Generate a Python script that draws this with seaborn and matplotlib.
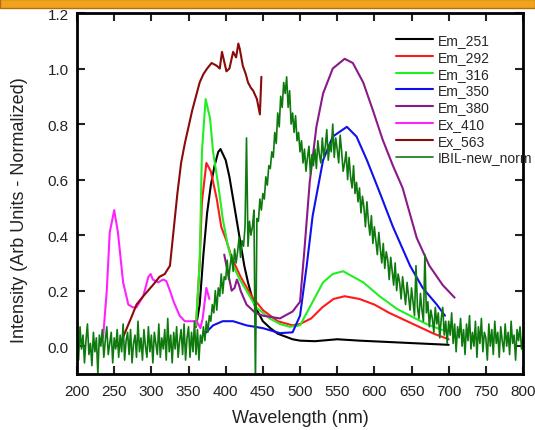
import numpy as np
import seaborn as sns
import matplotlib.pyplot as plt
from matplotlib.patches import Rectangle

### Datos
# Em_251
wl_em251 = [360, 365, 370, 375, 380, 385, 390, 393, 400, 405, 410, 415, 420, 425, 430, 435,
            440, 450, 460, 470, 480, 490, 500, 520, 550, 580, 620, 660, 700]
em251 = [0.07, 0.15, 0.33, 0.48, 0.58, 0.65, 0.70, 0.71, 0.67, 0.61, 0.53, 0.45, 0.37, 0.29, 0.23, 0.18,
         0.14, 0.09, 0.065, 0.045, 0.035, 0.025, 0.02, 0.018, 0.025, 0.02, 0.015, 0.01, 0.005]

# Em_292
wl_em292 = [360, 365, 368, 374, 380, 388, 394, 401, 408, 420, 435, 450, 470, 490, 500, 515,
            530, 545, 560, 580, 600, 620, 640, 660, 680, 700]
em292 = [0.07, 0.3, 0.52, 0.66, 0.63, 0.53, 0.43, 0.38, 0.32, 0.25, 0.18, 0.13, 0.09, 0.075, 0.08, 0.1,
         0.14, 0.17, 0.18, 0.17, 0.15, 0.12, 0.095, 0.07, 0.045, 0.025]

# Em_316
wl_em316 = [360, 365, 368, 373, 379, 383, 390, 396, 403, 410, 419, 428, 441, 459, 473, 486,
            500, 517, 531, 544, 558, 585, 607, 630, 648, 670, 700]
em316 = [0.075, 0.3, 0.7, 0.89, 0.82, 0.7, 0.58, 0.46, 0.36, 0.29, 0.24, 0.2, 0.14, 0.1, 0.08, 0.07,
         0.075, 0.16, 0.23, 0.26, 0.27, 0.23, 0.18, 0.135, 0.11, 0.08, 0.05]

# Em_350
wl_em350 = [370, 383, 396, 410, 428, 450, 473, 490, 500, 509, 517, 531, 544, 563, 576, 590,
            607, 625, 648, 665, 684, 695]
em350 = [0.04, 0.075, 0.09, 0.09, 0.075, 0.065, 0.047, 0.05, 0.11, 0.29, 0.47, 0.67, 0.755, 0.79, 0.755, 0.67,
         0.555, 0.43, 0.29, 0.21, 0.15, 0.11]

# Em_380
wl_em380 = [398, 401, 405, 408, 412, 415, 418, 420, 428, 440, 450, 473, 490, 500, 506, 513,
            522, 531, 544, 560, 571, 585, 598, 611, 625, 638, 657, 674, 692, 708]
em380 = [0.33, 0.29, 0.24, 0.2, 0.21, 0.24, 0.22, 0.2, 0.15, 0.12, 0.11, 0.1, 0.125, 0.16, 0.35, 0.59,
         0.79, 0.91, 1.0, 1.035, 1.02, 0.95, 0.85, 0.745, 0.65, 0.57, 0.39, 0.29, 0.22, 0.175]

# Ex_410
wl_ex410 = [235, 240, 244, 250, 255, 262, 269, 275, 280, 289, 296, 299, 302, 309, 316, 320,
            325, 330, 338, 345, 356, 361, 366, 369, 374, 378]
ex410 = [0.03, 0.2, 0.41, 0.49, 0.41, 0.23, 0.15, 0.14, 0.14, 0.18, 0.25, 0.26, 0.24, 0.23, 0.24, 0.235,
         0.2, 0.16, 0.11, 0.09, 0.09, 0.09, 0.065, 0.1, 0.21, 0.17]

# Ex_563
wl_ex563 = [254, 260, 267, 274, 280, 289, 302, 311, 318, 325, 330, 335, 340, 345, 350, 355,
            360, 365, 370, 375, 381, 388, 392, 395, 401, 405, 410, 414, 417, 419, 423, 427,
            430, 434, 437, 442, 446, 448]
ex563 = [0.0, 0.02, 0.065, 0.11, 0.15, 0.18, 0.22, 0.25, 0.26, 0.29, 0.42, 0.55, 0.66, 0.73, 0.79, 0.85,
         0.9, 0.95, 0.98, 1.0, 1.02, 1.01, 1.0, 1.06, 0.99, 1.0, 1.06, 1.04, 1.09, 1.07, 1.01, 0.98,
         0.95, 0.93, 0.92, 0.89, 0.835, 0.97]

# IBIL-new_norm (cada 2 nm, de 200 a 800)
wl_ibil = np.arange(200, 801, 2)
ibil = [0.03, -0.05, 0.07, -0.01, 0.04, -0.06, 0.02, 0.08, -0.03, 0.01,       # 200
        -0.07, 0.05, -0.02, 0.03, -0.10, 0.04, 0.0, 0.06, -0.04, 0.02,        # 220
        0.07, -0.03, 0.01, 0.05, -0.06, 0.03, -0.01, 0.06, -0.04, 0.04,       # 240
        -0.02, 0.08, -0.05, 0.02, 0.05, -0.03, 0.06, -0.06, 0.01, 0.04,       # 260
        -0.04, 0.09, -0.02, 0.03, -0.05, 0.06, 0.0, -0.04, 0.07, -0.02,       # 280
        0.04, -0.06, 0.05, 0.01, -0.03, 0.08, -0.04, 0.03, -0.01, 0.06,       # 300
        -0.05, 0.1, -0.02, 0.04, -0.06, 0.05, -0.01, 0.07, -0.04, 0.02,       # 320
        0.06, -0.03, 0.08, -0.05, 0.03, 0.07, -0.04, 0.05, -0.02, 0.09,       # 340
        -0.03, 0.06, -0.05, 0.04, 0.01, 0.07, 0.02, 0.09, 0.05, 0.11,         # 360
        0.09, 0.15, 0.12, 0.2, 0.13, 0.21, 0.18, 0.26, 0.19, 0.25,            # 380
        0.24, 0.31, 0.24, 0.29, 0.33, 0.27, 0.35, 0.3, 0.34, 0.39,            # 400
        0.32, 0.38, 0.36, 0.43, 0.75, 0.36, 0.45, 0.4, 0.43, 0.49,            # 420
        -0.13, 0.46, 0.45, 0.53, 0.49, 0.55, 0.53, 0.61, 0.58, 0.65,          # 440
        0.64, 0.7, 0.68, 0.77, 0.73, 0.84, 0.79, 0.9, 0.86, 0.95,             # 460
        0.91, 0.97, 0.86, 0.92, 0.8, 0.84, 0.77, 0.83, 0.74, 0.77,            # 480
        0.7, 0.74, 0.66, 0.71, 0.63, 0.68, 0.72, 0.62, 0.69, 0.65,            # 500
        0.71, 0.64, 0.74, 0.69, 0.66, 0.75, 0.68, 0.72, 0.78, 0.67,           # 520
        0.73, 0.7, 0.8, 0.68, 0.75, 0.71, 0.66, 0.76, 0.7, 0.63,              # 540
        0.66, 0.7, 0.6, 0.68, 0.61, 0.57, 0.65, 0.55, 0.59, 0.52,             # 560
        0.57, 0.48, 0.54, 0.5, 0.43, 0.52, 0.45, 0.4, 0.47, 0.37,             # 580
        0.43, 0.38, 0.33, 0.41, 0.35, 0.3, 0.37, 0.28, 0.34, 0.31,            # 600
        0.24, 0.32, 0.27, 0.22, 0.3, 0.2, 0.26, 0.23, 0.17, 0.25,             # 620
        0.2, 0.15, 0.23, 0.18, 0.13, 0.21, 0.16, 0.11, 0.29, 0.14,            # 640
        0.1, 0.19, 0.13, 0.09, 0.33, 0.12, 0.16, 0.07, 0.13, 0.1,             # 660
        0.05, 0.14, 0.08, 0.12, 0.03, 0.1, 0.14, 0.04, 0.09, 0.01,            # 680
        0.09, 0.04, 0.12, 0.01, 0.08, -0.02, 0.07, 0.03, 0.1, 0.0,            # 700
        0.06, -0.03, 0.08, 0.02, 0.11, -0.01, 0.05, 0.0, 0.09, -0.04,         # 720
        0.07, 0.01, 0.1, -0.02, 0.05, 0.03, -0.05, 0.08, 0.0, 0.06,           # 740
        -0.03, 0.09, 0.01, 0.05, -0.04, 0.07, 0.02, -0.02, 0.08, 0.0,         # 760
        0.05, -0.03, 0.09, 0.01, 0.04, -0.05, 0.06, 0.02, 0.07, -0.01,        # 780
        0.03]                                                                 # 800

series = [
    ("Em_251", wl_em251, em251, "#000000"),
    ("Em_292", wl_em292, em292, "#ff1a1a"),
    ("Em_316", wl_em316, em316, "#22ee22"),
    ("Em_350", wl_em350, em350, "#1010ee"),
    ("Em_380", wl_em380, em380, "#8a1a8a"),
    ("Ex_410", wl_ex410, ex410, "#ff22ff"),
    ("Ex_563", wl_ex563, ex563, "#8b0a0a"),
    ("IBIL-new_norm", wl_ibil, ibil, "#0e7a0e"),
]

### Figura
sns.set_style("ticks")
plt.rcParams['font.family'] = ['Liberation Sans', 'DejaVu Sans']

fig = plt.figure(figsize=(5.35, 4.31), dpi=100)
ax = fig.add_axes([0.144, 0.13, 0.8336, 0.8375])

for nombre, x, y, color in series:
    sns.lineplot(x=x, y=y, ax=ax, color=color, label=nombre,
                 linewidth=1.2 if nombre == "IBIL-new_norm" else 1.5,
                 sort=False, estimator=None)

ax.set_xlim(200, 800)
ax.set_ylim(-0.1, 1.2)
ax.set_xticks(np.arange(200, 801, 50))
ax.set_yticks(np.arange(0, 1.21, 0.2))
ax.set_yticklabels([f"{v:.1f}" for v in np.arange(0, 1.21, 0.2)])
ax.tick_params(direction="in", length=6, width=1.5, top=True, right=True,
               labeltop=False, labelright=False, labelsize=11, colors="#222222")
ax.tick_params(axis="x", pad=7)
ax.tick_params(axis="y", pad=6)
for s in ax.spines.values():
    s.set_linewidth(2)
    s.set_color("black")

ax.set_xlabel("Wavelength (nm)", fontsize=13, color="#222222")
ax.xaxis.set_label_coords(0.5, -0.097)
ax.set_ylabel("Intensity (Arb Units - Normalized)", fontsize=13, color="#222222")
ax.yaxis.set_label_coords(-0.11, 0.457)

ax.legend(loc="upper left", bbox_to_anchor=(396 / 535, 1 - 34 / 431),
          bbox_transform=fig.transFigure, frameon=False, fontsize=10,
          handlelength=2.65, handletextpad=0.35, labelspacing=0.2,
          borderpad=0, borderaxespad=0)

# Barra naranja superior
fig.patches.append(Rectangle((0, 1 - 9 / 431), 1, 9 / 431, transform=fig.transFigure,
                             facecolor="#f2a31e", edgecolor="#b07010", linewidth=1, zorder=5))

plt.savefig("out.png", dpi=100)
